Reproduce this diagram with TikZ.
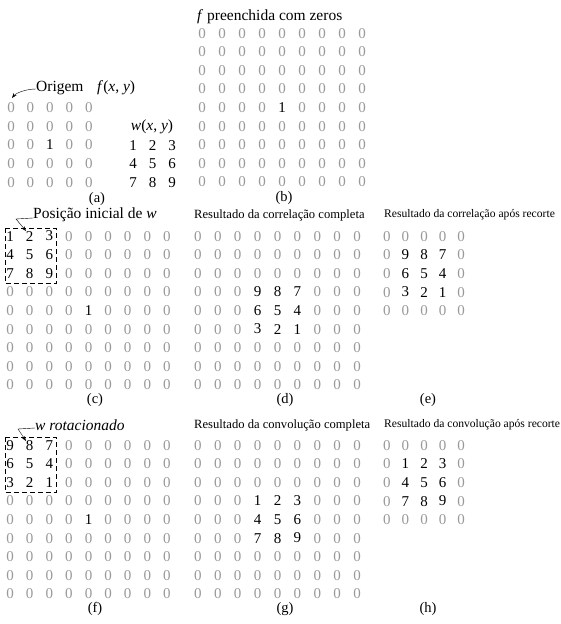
\documentclass[tikz,border=0pt]{standalone}
\usepackage{fontspec}
\setmainfont{Liberation Serif}
\usetikzlibrary{arrows.meta,matrix,positioning}
\definecolor{zerogray}{gray}{0.6}

\begin{document}
\begin{tikzpicture}[x=1pt, y=-1pt, >={Stealth[length=5pt,width=3.5pt]},
  numgrid/.style={matrix of nodes, inner sep=0pt, column sep=0pt, row sep=0pt,
    nodes={text=zerogray, inner sep=0pt, minimum width=#1, minimum height=18.6pt, anchor=center,
      font=\fontsize{15}{15}\selectfont}},
  nz/.style={text=black},
  caption/.style={inner sep=0pt, font=\fontsize{14.5}{16}\selectfont},
  title/.style={inner sep=0pt, anchor=west, font=\fontsize{15.5}{17}\selectfont},
  smalltitle/.style={inner sep=0pt, anchor=west, font=\fontsize{#1}{#1}\selectfont},
  window/.style={dash pattern=on 5pt off 3pt}]
  \useasboundingbox (0,0) rectangle (561,624);

  % (a) f(x,y) and w(x,y)
  \node (origem) [title] at (36,88) {Origem};
  \node (fxy) [title] at (97,88) {\textit{f}(\textit{x}, \textit{y})};
  \coordinate (origin) at (12,98);
  \matrix (fa) [numgrid=19.5pt] at (50,145) {
    0 & 0 & 0 & 0 & 0 \\
    0 & 0 & 0 & 0 & 0 \\
    0 & 0 & |[nz]| 1 & 0 & 0 \\
    0 & 0 & 0 & 0 & 0 \\
    0 & 0 & 0 & 0 & 0 \\
  };
  \node (wxy) [title, anchor=center] at (152,127) {\textit{w}(\textit{x}, \textit{y})};
  \matrix (wa) [numgrid=19.5pt, nodes={text=black}] at (152.5,164) {
    1 & 2 & 3 \\
    4 & 5 & 6 \\
    7 & 8 & 9 \\
  };
  \node (capa) [caption] at (97,199) {(a)};
  \draw[->] ([yshift=-1pt]origem.west) .. controls +(-10,0) and +(4,-5) .. (origin);

  % (b) f padded
  \node (ftitle) [title] at (197,17) {\textit{f} preenchida com zeros};
  \matrix (fb) [numgrid=20pt] at (282,107.5) {
    0 & 0 & 0 & 0 & 0 & 0 & 0 & 0 & 0 \\
    0 & 0 & 0 & 0 & 0 & 0 & 0 & 0 & 0 \\
    0 & 0 & 0 & 0 & 0 & 0 & 0 & 0 & 0 \\
    0 & 0 & 0 & 0 & 0 & 0 & 0 & 0 & 0 \\
    0 & 0 & 0 & 0 & |[nz]| 1 & 0 & 0 & 0 & 0 \\
    0 & 0 & 0 & 0 & 0 & 0 & 0 & 0 & 0 \\
    0 & 0 & 0 & 0 & 0 & 0 & 0 & 0 & 0 \\
    0 & 0 & 0 & 0 & 0 & 0 & 0 & 0 & 0 \\
    0 & 0 & 0 & 0 & 0 & 0 & 0 & 0 & 0 \\
  };
  \node (capb) [caption] at (284,198) {(b)};

  % (c) initial position of w
  \node (ctitle) [title] at (33,215) {Posição inicial de \textit{w}};
  \coordinate (cpoint) at (26,231);
  \matrix (fc) [numgrid=19.6pt] at (88.5,310.5) {
    |[nz]| 1 & |[nz]| 2 & |[nz]| 3 & 0 & 0 & 0 & 0 & 0 & 0 \\
    |[nz]| 4 & |[nz]| 5 & |[nz]| 6 & 0 & 0 & 0 & 0 & 0 & 0 \\
    |[nz]| 7 & |[nz]| 8 & |[nz]| 9 & 0 & 0 & 0 & 0 & 0 & 0 \\
    0 & 0 & 0 & 0 & 0 & 0 & 0 & 0 & 0 \\
    0 & 0 & 0 & 0 & |[nz]| 1 & 0 & 0 & 0 & 0 \\
    0 & 0 & 0 & 0 & 0 & 0 & 0 & 0 & 0 \\
    0 & 0 & 0 & 0 & 0 & 0 & 0 & 0 & 0 \\
    0 & 0 & 0 & 0 & 0 & 0 & 0 & 0 & 0 \\
    0 & 0 & 0 & 0 & 0 & 0 & 0 & 0 & 0 \\
  };
  \draw[window] ([shift={(-5,-8)}]fc-1-1.center) rectangle ([shift={(7,10)}]fc-3-3.center);
  \draw[->] ([yshift=-3pt]ctitle.west) -- ++(-17,1) -- (cpoint);
  \node (capc) [caption] at (95,400.5) {(c)};

  % (d) full correlation
  \node (dtitle) [smalltitle=12.6] at (194,215) {Resultado da correlação completa};
  \matrix (fd) [numgrid=19.9pt] at (277.5,310.5) {
    0 & 0 & 0 & 0 & 0 & 0 & 0 & 0 & 0 \\
    0 & 0 & 0 & 0 & 0 & 0 & 0 & 0 & 0 \\
    0 & 0 & 0 & 0 & 0 & 0 & 0 & 0 & 0 \\
    0 & 0 & 0 & |[nz]| 9 & |[nz]| 8 & |[nz]| 7 & 0 & 0 & 0 \\
    0 & 0 & 0 & |[nz]| 6 & |[nz]| 5 & |[nz]| 4 & 0 & 0 & 0 \\
    0 & 0 & 0 & |[nz]| 3 & |[nz]| 2 & |[nz]| 1 & 0 & 0 & 0 \\
    0 & 0 & 0 & 0 & 0 & 0 & 0 & 0 & 0 \\
    0 & 0 & 0 & 0 & 0 & 0 & 0 & 0 & 0 \\
    0 & 0 & 0 & 0 & 0 & 0 & 0 & 0 & 0 \\
  };
  \node (capd) [caption] at (285,400.5) {(d)};

  % (e) cropped correlation
  \node (etitle) [smalltitle=11.6] at (384,215) {Resultado da correlação após recorte};
  \matrix (fe) [numgrid=18.6pt] at (424,273.5) {
    0 & 0 & 0 & 0 & 0 \\
    0 & |[nz]| 9 & |[nz]| 8 & |[nz]| 7 & 0 \\
    0 & |[nz]| 6 & |[nz]| 5 & |[nz]| 4 & 0 \\
    0 & |[nz]| 3 & |[nz]| 2 & |[nz]| 1 & 0 \\
    0 & 0 & 0 & 0 & 0 \\
  };
  \node (cape) [caption] at (428,400.5) {(e)};

  % (f) rotated w
  \node (ftitle2) [title] at (35,425) {\textit{w rotacionado}};
  \coordinate (fpoint) at (26,441);
  \matrix (ff) [numgrid=19.6pt] at (88.5,519.5) {
    |[nz]| 9 & |[nz]| 8 & |[nz]| 7 & 0 & 0 & 0 & 0 & 0 & 0 \\
    |[nz]| 6 & |[nz]| 5 & |[nz]| 4 & 0 & 0 & 0 & 0 & 0 & 0 \\
    |[nz]| 3 & |[nz]| 2 & |[nz]| 1 & 0 & 0 & 0 & 0 & 0 & 0 \\
    0 & 0 & 0 & 0 & 0 & 0 & 0 & 0 & 0 \\
    0 & 0 & 0 & 0 & |[nz]| 1 & 0 & 0 & 0 & 0 \\
    0 & 0 & 0 & 0 & 0 & 0 & 0 & 0 & 0 \\
    0 & 0 & 0 & 0 & 0 & 0 & 0 & 0 & 0 \\
    0 & 0 & 0 & 0 & 0 & 0 & 0 & 0 & 0 \\
    0 & 0 & 0 & 0 & 0 & 0 & 0 & 0 & 0 \\
  };
  \draw[window] ([shift={(-5,-8)}]ff-1-1.center) rectangle ([shift={(7,10)}]ff-3-3.center);
  \draw[->] ([yshift=-3pt]ftitle2.west) -- ++(-17,1) -- (fpoint);
  \node (capf) [caption] at (95,609) {(f)};

  % (g) full convolution
  \node (gtitle) [smalltitle=12.6] at (194,425) {Resultado da convolução completa};
  \matrix (fg) [numgrid=19.9pt] at (277.5,519.5) {
    0 & 0 & 0 & 0 & 0 & 0 & 0 & 0 & 0 \\
    0 & 0 & 0 & 0 & 0 & 0 & 0 & 0 & 0 \\
    0 & 0 & 0 & 0 & 0 & 0 & 0 & 0 & 0 \\
    0 & 0 & 0 & |[nz]| 1 & |[nz]| 2 & |[nz]| 3 & 0 & 0 & 0 \\
    0 & 0 & 0 & |[nz]| 4 & |[nz]| 5 & |[nz]| 6 & 0 & 0 & 0 \\
    0 & 0 & 0 & |[nz]| 7 & |[nz]| 8 & |[nz]| 9 & 0 & 0 & 0 \\
    0 & 0 & 0 & 0 & 0 & 0 & 0 & 0 & 0 \\
    0 & 0 & 0 & 0 & 0 & 0 & 0 & 0 & 0 \\
    0 & 0 & 0 & 0 & 0 & 0 & 0 & 0 & 0 \\
  };
  \node (capg) [caption] at (285,609) {(g)};

  % (h) cropped convolution
  \node (htitle) [smalltitle=11.6] at (384,425) {Resultado da convolução após recorte};
  \matrix (fh) [numgrid=18.6pt] at (424,482.5) {
    0 & 0 & 0 & 0 & 0 \\
    0 & |[nz]| 1 & |[nz]| 2 & |[nz]| 3 & 0 \\
    0 & |[nz]| 4 & |[nz]| 5 & |[nz]| 6 & 0 \\
    0 & |[nz]| 7 & |[nz]| 8 & |[nz]| 9 & 0 \\
    0 & 0 & 0 & 0 & 0 \\
  };
  \node (caph) [caption] at (428,609) {(h)};
\end{tikzpicture}
\end{document}
